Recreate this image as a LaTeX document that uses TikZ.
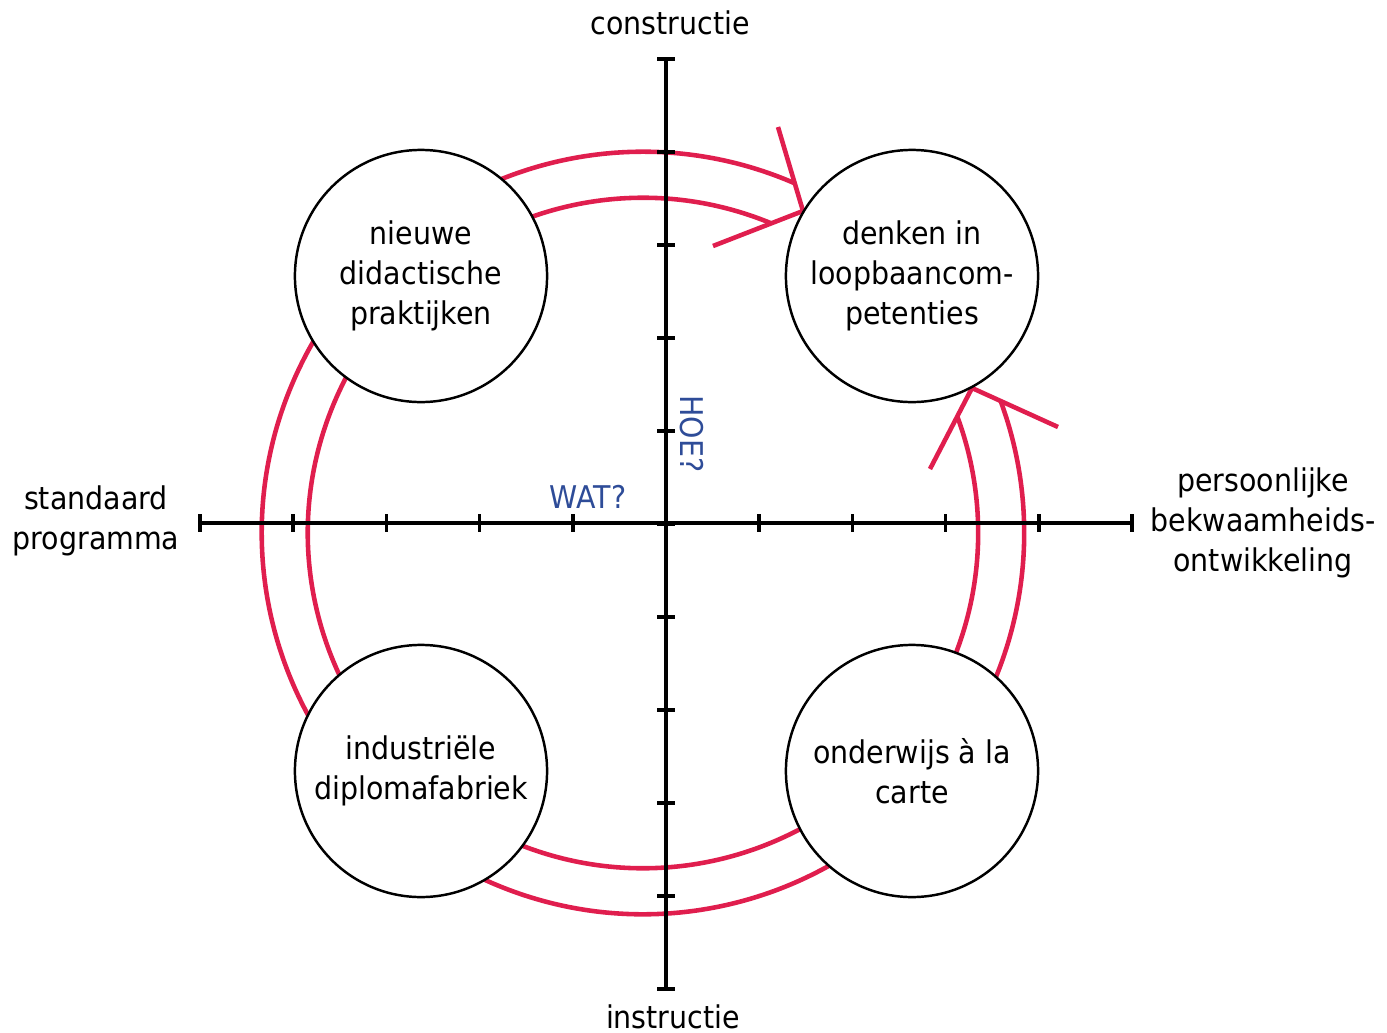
\documentclass[tikz,border=0pt]{standalone}
\usepackage{fontspec}
\setmainfont{DejaVu Sans}[FakeStretch=0.91]
\usetikzlibrary{positioning}
\definecolor{ringred}{RGB}{224,30,78}
\definecolor{askblue}{RGB}{46,76,152}
\tikzset{
  phase/.style = {circle, draw, fill=white, line width=0.7pt,
    minimum size=2.52cm, inner sep=0pt, align=center},
  pole/.style = {align=center},
  ring/.style = {draw=ringred, line width=1.3pt},
  axisline/.style = {line width=1pt},
  question/.style = {text=askblue},
}

\begin{document}
\begin{tikzpicture}[x=0.01cm, y=-0.01cm, font=\fontsize{8.9}{11.4}\selectfont]
  \useasboundingbox (0,0) rectangle (1387,1033);
  \coordinate (c) at (643,533);
  % ring
  \draw[ring] (c) ++(66.5:3.81cm) arc[start angle=66.5, end angle=380.3, radius=3.81cm];
  \draw[ring] (c) ++(67.5:3.35cm) arc[start angle=67.5, end angle=380.3, radius=3.35cm];
  \coordinate (top tip) at (803,211);
  \coordinate (top barb1) at (778,127);
  \coordinate (top barb2) at (713,246);
  \coordinate (right tip) at (972,388);
  \coordinate (right barb1) at (930,469);
  \coordinate (right barb2) at (1058,427);
  \draw[ring] (top barb1) -- (top tip) -- (top barb2);
  \draw[ring] (right barb1) -- (right tip) -- (right barb2);
  % axes
  \coordinate (w) at (200,523);
  \coordinate (e) at (1132,523);
  \coordinate (n) at (666,59);
  \coordinate (s) at (666,989);
  \draw[axisline] (w) -- (e);
  \draw[axisline] (n) -- (s);
  \foreach \k in {0,...,10} {
    \draw[axisline] (200+93.2*\k,514) -- ++(0,18);
    \draw[axisline] (657,59+93*\k) -- ++(18,0);
  }
  % phases
  \node[phase] (nieuwe) at (421,276) {nieuwe\\didactische\\praktijken};
  \node[phase] (denken) at (912,276) {denken in\\loopbaancom-\\petenties};
  \node[phase] (fabriek) at (421,771) {industriële\\diplomafabriek};
  \node[phase] (carte) at (912,771) {onderwijs à la\\carte};
  % poles
  \node[pole] (constructie) at (670,23) {constructie};
  \node[pole] (instructie) at (673,1017) {instructie};
  \node[pole] (standaard) at (96,521) {standaard\\programma};
  \node[pole] (persoonlijk) at (1263,523) {persoonlijke\\bekwaamheids-\\ontwikkeling};
  \node[question] (wat) at (588,497) {WAT?};
  \node[question, rotate=-90] (hoe) at (692,434) {HOE?};
\end{tikzpicture}
\end{document}
